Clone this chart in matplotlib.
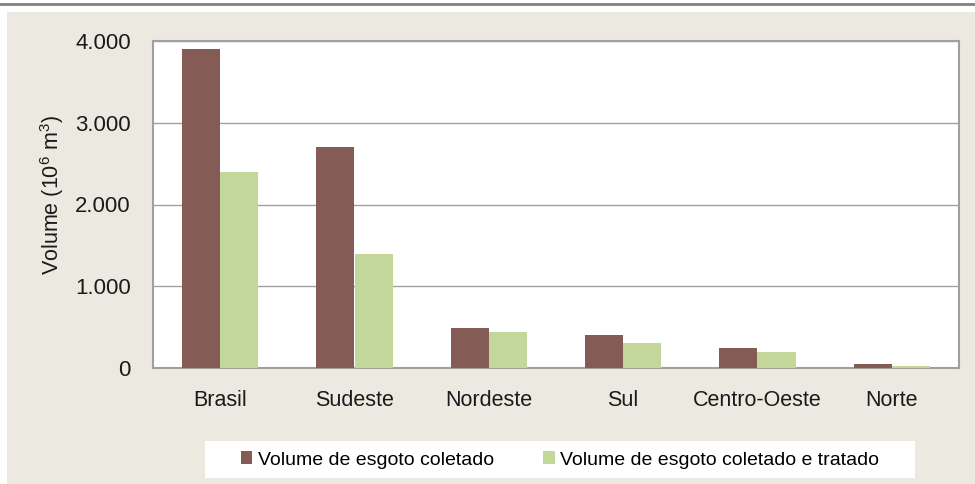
import matplotlib
matplotlib.use("Agg")
from matplotlib import pyplot as plt
from matplotlib.patches import Rectangle
from matplotlib.lines import Line2D
import numpy as np

regions = ["Brasil", "Sudeste", "Nordeste", "Sul", "Centro-Oeste", "Norte"]
coletado = [3900, 2700, 490, 400, 240, 55]
tratado = [2400, 1400, 440, 300, 190, 20]
yticks = [0, 1000, 2000, 3000, 4000]
ytick_labels = ["0", "1.000", "2.000", "3.000", "4.000"]

plt.rcParams["font.family"] = ["Liberation Sans", "DejaVu Sans"]
plt.rcParams["mathtext.fontset"] = "custom"
plt.rcParams["mathtext.rm"] = "Liberation Sans"
plt.rcParams["mathtext.it"] = "Liberation Sans"

brown = "#845C55"
green = "#C4D79B"
beige = "#ECEAE0"
grey = "#A0A0A0"
txt = "#1a1a1a"

fig = plt.figure(figsize=(9.75, 4.84), dpi=100)
fig.patch.set_facecolor("white")
# beige panel and top rule
fig.patches.append(Rectangle((7 / 975, 0), 1, 1 - 12 / 484, transform=fig.transFigure,
                             facecolor=beige, edgecolor="none", zorder=-2))
fig.lines.append(Line2D([0, 1], [1 - 3.5 / 484] * 2, transform=fig.transFigure,
                        color="#808080", linewidth=2, zorder=-2))
# legend background
fig.patches.append(Rectangle((205 / 975, 1 - 478 / 484), 710 / 975, 37 / 484,
                             transform=fig.transFigure, facecolor="white",
                             edgecolor="none", zorder=-1))

ax = fig.add_axes([153 / 975, 1 - 368 / 484, 806 / 975, 327 / 484])
ax.set_zorder(2)
ax.set_facecolor("white")

x = np.arange(len(regions))
w = 0.283
ax.bar(x - w / 2, coletado, w, color=brown, label="Volume de esgoto coletado", zorder=3)
ax.bar(x + w / 2, tratado, w, color=green, label="Volume de esgoto coletado e tratado", zorder=3)

ax.set_xlim(-0.5, len(regions) - 0.5)
ax.set_ylim(0, 4000)
ax.set_yticks(yticks)
ax.set_yticklabels(ytick_labels, fontsize=16)
ax.set_xticks(x)
ax.set_xticklabels(regions, fontsize=15.5)
ax.tick_params(axis="both", length=0, colors=txt)
ax.tick_params(axis="y", pad=16)
ax.tick_params(axis="x", pad=16)
ax.yaxis.grid(True, color=grey, linewidth=1, zorder=0)
ax.set_axisbelow(True)
for s in ax.spines.values():
    s.set_color(grey)
    s.set_linewidth(1.5)

ax.set_ylabel("Volume (10$^6$ m$^3$)", fontsize=15.5, color=txt)
ax.yaxis.set_label_coords(-0.108, 0.53)

fig.legend(loc="center", bbox_to_anchor=(560 / 975, 1 - 460 / 484), ncol=2,
           frameon=False, fontsize=14, handlelength=0.6, handleheight=0.6,
           handletextpad=0.3, columnspacing=2.5)

fig.savefig("out.png", dpi=100)
